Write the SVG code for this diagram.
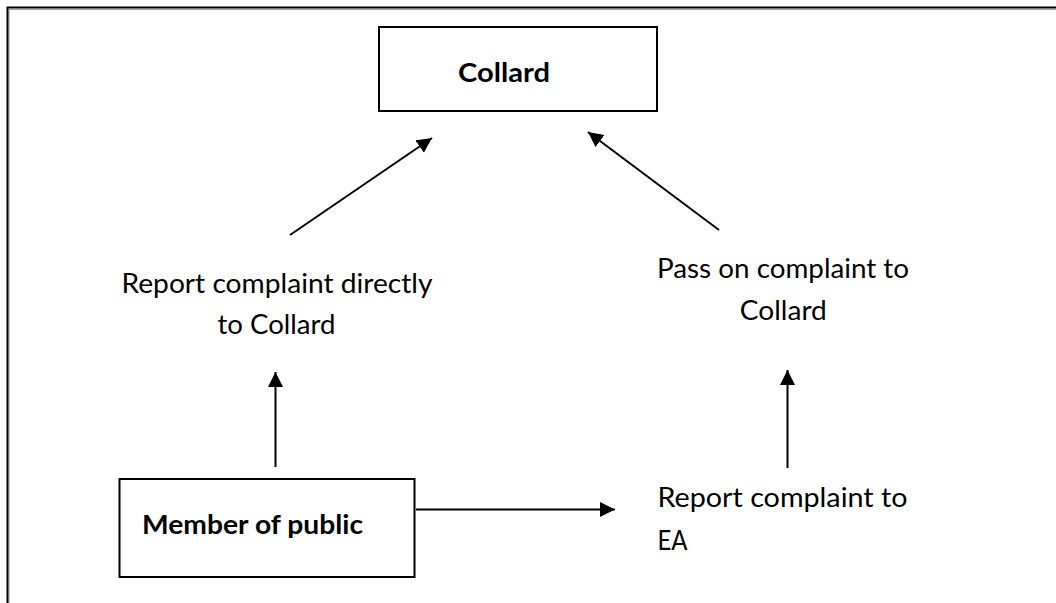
<svg xmlns="http://www.w3.org/2000/svg" width="1056" height="603" viewBox="0 0 1056 603">
  <style>
    .box { fill: #ffffff; stroke: #000000; stroke-width: 2; }
    .bold { font-family: Lato, "Noto Sans", "Liberation Sans", sans-serif; font-weight: bold; font-size: 26px; fill: #000000; }
    .txt { font-family: Lato, "Noto Sans", "Liberation Sans", sans-serif; font-size: 26px; fill: #000000; }
    .mid { text-anchor: middle; }
    .conn { stroke: #000000; stroke-width: 2; fill: none; marker-end: url(#arrow); }
  </style>
  <defs>
    <marker id="arrow" markerUnits="userSpaceOnUse" markerWidth="16" markerHeight="16" refX="15" refY="7.5" orient="auto">
      <path d="M0,0 L15,7.5 L0,15 Z" fill="#000000"/>
    </marker>
  </defs>
  <rect width="1056" height="603" fill="#ffffff"/>
  <g id="frame">
    <path d="M9,603 V9.5 H1056" fill="none" stroke="#a0a0a0" stroke-width="1"/>
    <path d="M7.5,603 V7.5 H1056" fill="none" stroke="#000000" stroke-width="2"/>
  </g>
  <g id="node-collard">
    <rect class="box" x="379" y="27" width="278" height="84"/>
    <text class="bold" x="458" y="82" textLength="92" lengthAdjust="spacingAndGlyphs">Collard</text>
  </g>
  <g id="node-member">
    <rect class="box" x="119.5" y="479" width="295" height="98"/>
    <text class="bold" x="142" y="533.5" textLength="221" lengthAdjust="spacingAndGlyphs">Member of public</text>
  </g>
  <g id="node-report-direct">
    <text class="txt mid" x="277" y="292.5" textLength="311" lengthAdjust="spacingAndGlyphs">Report complaint directly</text>
    <text class="txt mid" x="276.5" y="333.5" textLength="118" lengthAdjust="spacingAndGlyphs">to Collard</text>
  </g>
  <g id="node-pass-on">
    <text class="txt mid" x="783" y="277.5" textLength="252" lengthAdjust="spacingAndGlyphs">Pass on complaint to</text>
    <text class="txt mid" x="783.3" y="320" textLength="87" lengthAdjust="spacingAndGlyphs">Collard</text>
  </g>
  <g id="node-report-ea">
    <text class="txt" x="657.5" y="507" textLength="250" lengthAdjust="spacingAndGlyphs">Report complaint to</text>
    <text class="txt" x="657.5" y="549.5" textLength="30" lengthAdjust="spacingAndGlyphs">EA</text>
  </g>
  <g id="connectors">
    <line class="conn" x1="275.5" y1="467" x2="275.5" y2="372"/>
    <line class="conn" x1="290" y1="235" x2="432" y2="138"/>
    <line class="conn" x1="787.5" y1="468" x2="787.5" y2="370"/>
    <line class="conn" x1="719" y1="230" x2="588" y2="132"/>
    <line class="conn" x1="416" y1="509.5" x2="615" y2="509.5"/>
  </g>
</svg>
